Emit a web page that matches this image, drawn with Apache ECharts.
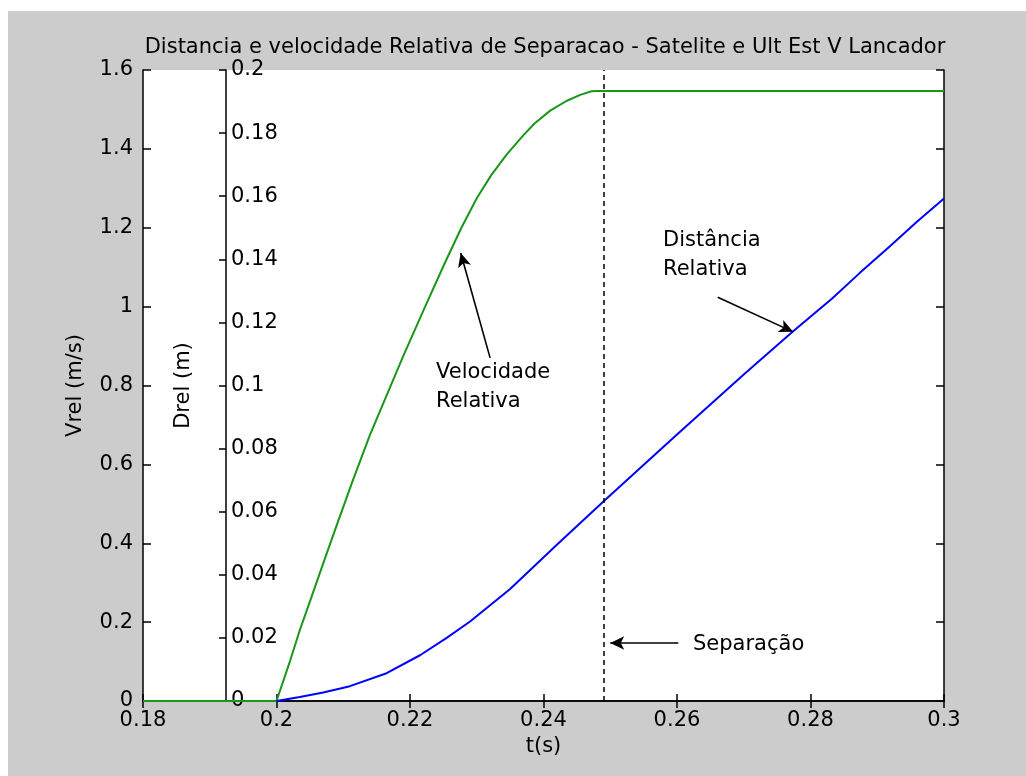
<!DOCTYPE html>
<html>
<head>
<meta charset="utf-8">
<script src="https://cdn.jsdelivr.net/npm/echarts@6/dist/echarts.min.js"></script>
<style>
  html, body { margin: 0; padding: 0; background: #ffffff; }
  #chart { position: absolute; left: 8px; top: 11px; width: 1018px; height: 765px; }
</style>
</head>
<body>
<div id="chart"></div>
<script>
// Relative separation velocity (m/s) between satellite and launcher upper stage
const timeVel = [0.18, 0.2, 0.202, 0.2035, 0.205, 0.2065, 0.2088, 0.2113, 0.214, 0.2165, 0.219, 0.222,
  0.2252, 0.2277, 0.23, 0.2322, 0.2345, 0.237, 0.2387, 0.241, 0.2435, 0.2455, 0.2472, 0.248, 0.3];
const velRel = [0, 0, 0.10, 0.18, 0.252, 0.325, 0.435, 0.553, 0.675, 0.775, 0.875, 0.99,
  1.11, 1.20, 1.275, 1.334, 1.386, 1.435, 1.465, 1.497, 1.522, 1.537, 1.546, 1.547, 1.547];

// Relative distance (m)
const timeDist = [0.2, 0.2035, 0.207, 0.211, 0.2165, 0.2215, 0.2255, 0.229, 0.235, 0.242, 0.2491,
  0.26, 0.27, 0.2774, 0.2832, 0.2874, 0.2919, 0.2959, 0.3];
const distRel = [0, 0.0013, 0.0027, 0.0047, 0.0088, 0.0145, 0.0200, 0.0252, 0.0355, 0.0495, 0.0635,
  0.0845, 0.1035, 0.1172, 0.1275, 0.1357, 0.1441, 0.1518, 0.1593];

// Separation instant (s)
const tSeparation = 0.249;

// Axis ranges and tick steps
const tRange = [0.18, 0.3, 0.02];
const vRange = [0, 1.6, 0.2];
const dRange = [0, 0.2, 0.02];

// Annotation texts and arrows, in (t, Vrel) coordinates
const noteTexts = [
  { text: 'Velocidade\nRelativa', at: [0.2239, 0.796] },
  { text: 'Distância\nRelativa', at: [0.2579, 1.130] },
  { text: 'Separação', at: [0.2624, 0.142] }
];
const noteArrows = [
  { from: [0.2320, 0.870], to: [0.2276, 1.136] },
  { from: [0.2661, 1.024], to: [0.2774, 0.936] },
  { from: [0.2602, 0.147], to: [0.2500, 0.147] }
];

const FONT = 'DejaVu Sans';
const INK = '#000000';
const FS = 21;
const fmt = v => String(+v.toFixed(4));

const chart = echarts.init(document.getElementById('chart'), null, { renderer: 'canvas' });

const baseTextStyle = { color: INK, fontSize: FS, fontFamily: FONT };

const option = {
  backgroundColor: '#cccccc',
  animation: false,
  textStyle: { fontFamily: FONT },
  title: {
    text: 'Distancia e velocidade Relativa de Separacao - Satelite e Ult Est V Lancador',
    left: 532,
    textAlign: 'center',
    top: 21,
    textStyle: { color: INK, fontSize: FS, fontWeight: 'normal', fontFamily: FONT }
  },
  grid: { left: 135, top: 59, right: 82, bottom: 75, show: true, backgroundColor: '#ffffff', borderWidth: 0 },
  xAxis: [
    {
      type: 'value', position: 'bottom',
      min: tRange[0], max: tRange[1], interval: tRange[2],
      name: 't(s)', nameLocation: 'middle', nameGap: 30,
      nameTextStyle: baseTextStyle,
      axisLine: { lineStyle: { color: INK, width: 1.5 } },
      axisTick: { inside: true, length: 7, lineStyle: { color: INK, width: 1.5 } },
      axisLabel: Object.assign({ margin: 9, formatter: fmt }, baseTextStyle),
      splitLine: { show: false }
    },
    {
      type: 'value', position: 'top',
      min: tRange[0], max: tRange[1], interval: tRange[2],
      axisLine: { lineStyle: { color: INK, width: 1.5 } },
      axisTick: { inside: true, length: 7, lineStyle: { color: INK, width: 1.5 } },
      axisLabel: { show: false },
      splitLine: { show: false }
    }
  ],
  yAxis: [
    {
      type: 'value', position: 'left',
      min: vRange[0], max: vRange[1], interval: vRange[2],
      name: 'Vrel (m/s)', nameLocation: 'middle', nameGap: 57,
      nameTextStyle: baseTextStyle,
      axisLine: { show: true, lineStyle: { color: INK, width: 1.5 } },
      axisTick: { show: true, inside: true, length: 8, lineStyle: { color: INK, width: 1.5 } },
      axisLabel: Object.assign({ margin: 10, formatter: fmt }, baseTextStyle),
      splitLine: { show: false }
    },
    {
      type: 'value', position: 'left', offset: -83,
      min: dRange[0], max: dRange[1], interval: dRange[2],
      name: 'Drel (m)', nameLocation: 'middle', nameGap: 32,
      nameTextStyle: baseTextStyle,
      axisLine: { show: true, lineStyle: { color: INK, width: 1.5 } },
      axisTick: { show: true, inside: false, length: 7, lineStyle: { color: INK, width: 1.5 } },
      axisLabel: Object.assign({ inside: true, margin: 5, formatter: fmt }, baseTextStyle),
      splitLine: { show: false }
    },
    {
      type: 'value', position: 'right',
      min: vRange[0], max: vRange[1], interval: vRange[2],
      axisLine: { show: true, lineStyle: { color: INK, width: 1.5 } },
      axisTick: { show: true, inside: true, length: 8, lineStyle: { color: INK, width: 1.5 } },
      axisLabel: { show: false },
      splitLine: { show: false }
    }
  ],
  series: [
    {
      name: 'Velocidade Relativa',
      type: 'line',
      xAxisIndex: 0, yAxisIndex: 0,
      data: timeVel.map((t, i) => [t, velRel[i]]),
      showSymbol: false,
      smooth: false,
      lineStyle: { color: '#1a961a', width: 2 },
      itemStyle: { color: '#1a961a' },
      silent: true,
      z: 3,
      markLine: {
        silent: true,
        symbol: ['none', 'arrow'],
        symbolSize: [10, 14],
        label: { show: false },
        lineStyle: { color: INK, width: 1.6, type: 'solid' },
        itemStyle: { color: INK },
        emphasis: { disabled: true },
        data: noteArrows.map(a => [{ coord: a.from }, { coord: a.to }]).concat([
          // dashed marker at the separation instant, full plot height
          [
            { coord: [tSeparation, vRange[0]], symbol: 'none',
              lineStyle: { color: INK, width: 1.5, type: [5, 4] } },
            { coord: [tSeparation, vRange[1]], symbol: 'none' }
          ]
        ])
      }
    },
    {
      name: 'Distância Relativa',
      type: 'line',
      xAxisIndex: 0, yAxisIndex: 1,
      data: timeDist.map((t, i) => [t, distRel[i]]),
      showSymbol: false,
      smooth: false,
      lineStyle: { color: '#0000ff', width: 2 },
      itemStyle: { color: '#0000ff' },
      silent: true,
      z: 3
    },
    {
      name: 'notes',
      type: 'scatter',
      xAxisIndex: 0, yAxisIndex: 0,
      symbolSize: 0,
      silent: true,
      z: 4,
      itemStyle: { opacity: 1 },
      data: noteTexts.map(n => ({
        value: n.at,
        label: {
          show: true, position: 'right', distance: 0,
          align: 'left', verticalAlign: 'middle',
          formatter: n.text, color: INK, fontSize: FS, fontFamily: FONT, lineHeight: 29
        }
      }))
    }
  ]
};

chart.setOption(option);
</script>
</body>
</html>
